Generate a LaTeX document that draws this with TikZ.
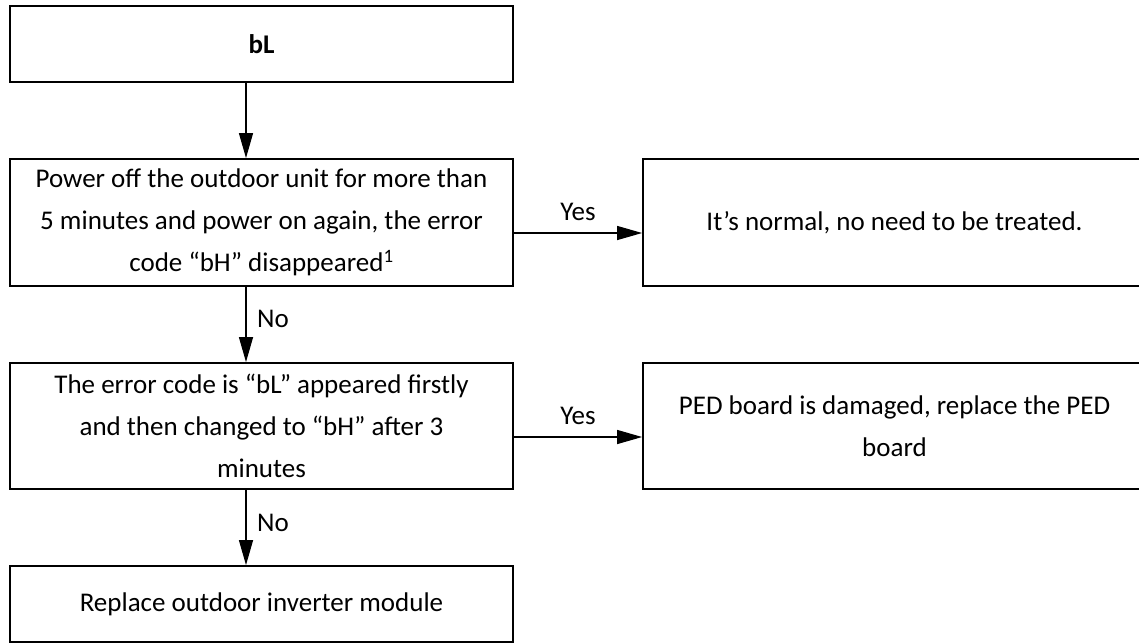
\documentclass[tikz,border=0pt]{standalone}
\usepackage{fontspec}
\setmainfont{Carlito}
\usetikzlibrary{arrows.meta}
\begin{document}
\begin{tikzpicture}[x=1pt,y=-1pt,
  box/.style={draw, line width=1.8pt, rectangle, align=center, inner sep=0pt,
    minimum width=503pt, font=\fontsize{27}{42}\selectfont},
  arr/.style={line width=1.3pt, -{Triangle[length=25pt,width=14pt]}},
  lbl/.style={font=\fontsize{27}{30}\selectfont, inner sep=0pt}]
\useasboundingbox (0,0) rectangle (1139,643);
\node[box, minimum height=76.5pt] (b1) at (261.5,44) {\textbf{bL}};
\node[box, minimum height=127pt] (b2) at (261.5,222.5)
  {Power off the outdoor unit for more than\\5 minutes and power on again, the error\\code “bH” disappeared\textsuperscript{1}};
\node[box, minimum height=127pt] (r1) at (894.5,222.5) {It’s normal, no need to be treated.};
\node[box, minimum height=126pt] (b3) at (261.5,426)
  {The error code is “bL” appeared firstly\\and then changed to “bH” after 3\\minutes};
\node[box, minimum height=126pt] (r2) at (894.5,426) {PED board is damaged, replace the PED\\board};
\node[box, minimum height=76pt] (b4) at (261.5,604) {Replace outdoor inverter module};
\coordinate (ax) at (246,0);
\coordinate (ya) at (0,233);
\coordinate (yb) at (0,437);
\draw[arr] (b1.south -| ax) -- (b2.north -| ax);
\draw[arr] (b2.south -| ax) -- (b3.north -| ax);
\draw[arr] (b3.south -| ax) -- (b4.north -| ax);
\draw[arr] (b2.east |- ya) -- (r1.west |- ya);
\draw[arr] (b3.east |- yb) -- (r2.west |- yb);
\node[lbl] (yes1) at (578,212) {Yes};
\node[lbl] (yes2) at (578,416) {Yes};
\node[lbl, anchor=west] (no1) at (257,319) {No};
\node[lbl, anchor=west] (no2) at (257,523) {No};
\end{tikzpicture}
\end{document}
